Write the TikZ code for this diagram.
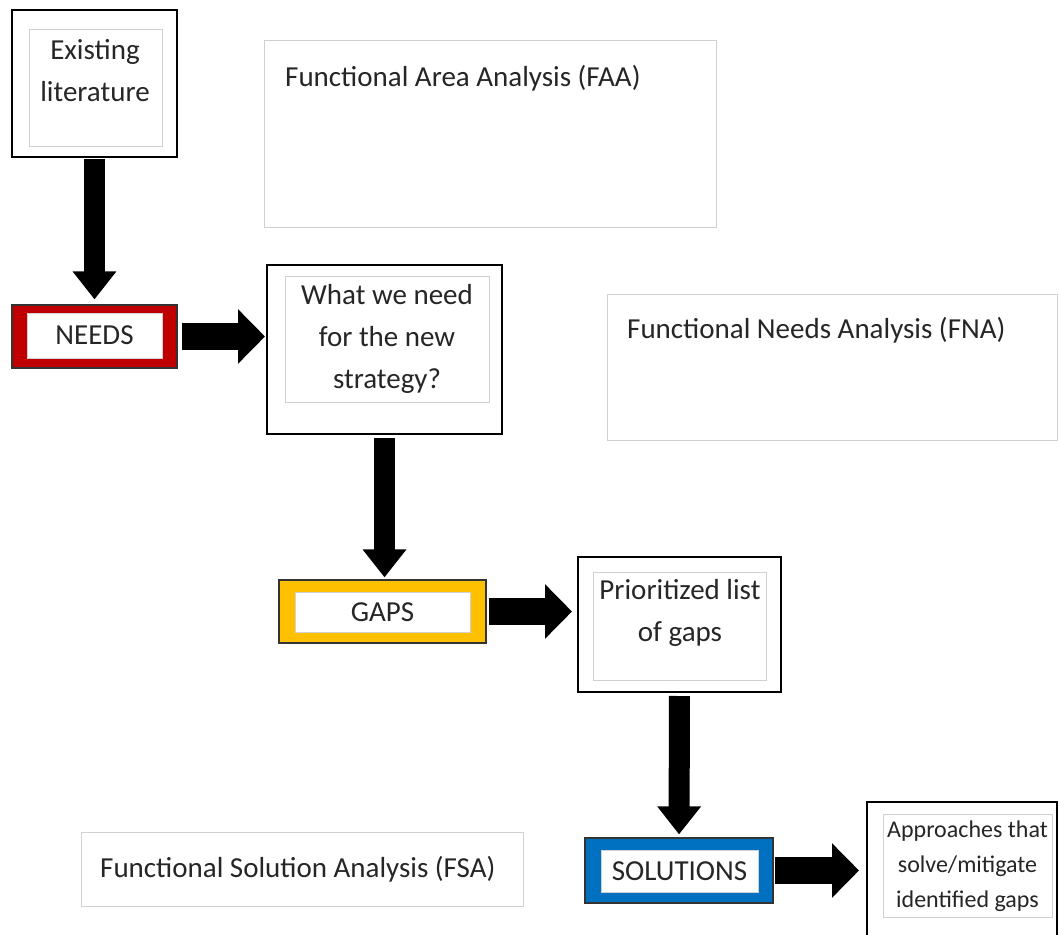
\documentclass[tikz,border=0pt]{standalone}
\usepackage{fontspec}
\setmainfont{Carlito}
\usetikzlibrary{arrows.meta,positioning}

\definecolor{needsred}{HTML}{C00000}
\definecolor{gapsgold}{HTML}{FFC000}
\definecolor{solblue}{HTML}{0070C0}

\begin{document}
\begin{tikzpicture}[x=1pt, y=-1pt,
outer/.style={draw=black, line width=2pt, minimum width=#1, inner sep=0pt},
frame/.style={draw=black!18, line width=0.8pt, fill=white, inner sep=0pt},
band/.style={draw=black!80, line width=1.2pt, inner sep=0pt, minimum height=63pt},
txt/.style={align=center, text=black!85, font=\fontsize{29}{42}\selectfont},
small/.style={align=center, text=black!85, font=\fontsize{24}{35}\selectfont},
title/.style={anchor=base west, text=black!85, font=\fontsize{29}{35}\selectfont, inner sep=0pt},
varrow/.style={line width=21pt, -{Triangle[width=42pt,length=28pt]}},
harrow/.style={line width=27pt, -{Triangle[width=53pt,length=27pt]}}]
\path[use as bounding box, fill=white] (0,0) rectangle (1059,934);

% analysis areas
\node [frame, minimum width=452pt, minimum height=187pt] (faa) at (490,133.5) {};
\node [title] (faatxt) at (285,86) {Functional Area Analysis (FAA)};
\node [frame, minimum width=450pt, minimum height=146pt] (fna) at (832,367) {};
\node [title] (fnatxt) at (627,338) {Functional Needs Analysis (FNA)};
\node [frame, minimum width=442pt, minimum height=74pt] (fsa) at (302,869) {};
\node [title] (fsatxt) at (100,877) {Functional Solution Analysis (FSA)};

% boxes
\node [outer=165pt, minimum height=147pt] (lit) at (94.5,83.5) {};
\node [frame, minimum width=133pt, minimum height=117pt] (litin) at (95.5,87.5) {};
\node [txt] (littxt) at (95,71) {Existing\\literature};

\node [band, fill=needsred, minimum width=165pt] (needs) at (94.5,336.5) {};
\node [frame, fill=white, minimum width=135pt, minimum height=45pt, txt] (needsin) at (94.5,335.5) {NEEDS};

\node [outer=235pt, minimum height=169pt] (what) at (384.5,349.5) {};
\node [frame, minimum width=204pt, minimum height=126pt, txt] (whatin) at (387,339)
  {What we need\\for the new\\strategy?};

\node [band, fill=gapsgold, minimum width=207pt] (gaps) at (382.5,611.5) {};
\node [frame, fill=white, minimum width=175pt, minimum height=40pt, txt] (gapsin) at (382.5,612) {GAPS};

\node [outer=203pt, minimum height=135pt] (prior) at (679.5,624.5) {};
\node [frame, minimum width=173pt, minimum height=108pt] (priorin) at (679.5,626) {};
\node [txt] (priortxt) at (680,613) {Prioritized list\\of gaps};

\node [band, fill=solblue, minimum width=188pt, minimum height=65pt] (sol) at (679,870.5) {};
\node [frame, fill=white, minimum width=157pt, minimum height=42pt, txt] (solin) at (679.5,871) {SOLUTIONS};

\node [outer=190pt, minimum height=148pt] (appr) at (962,876) {};
\node [frame, minimum width=169pt, minimum height=103pt, small] (apprin) at (967.5,866)
  {Approaches that\\solve/mitigate\\identified gaps};

% arrows
\draw [varrow, shorten <=1pt, shorten >=5pt] (lit.south) -- (needs.north);
\draw [harrow, shorten <=4pt, shorten >=1pt] (needs.east) -- (needs.east -| what.west);
\draw [varrow, shorten <=3pt, shorten >=2pt] (what.south) -- (what.south |- gaps.north);
\draw [harrow, shorten <=2pt, shorten >=5pt] (gaps.east) -- (gaps.east -| prior.west);
\draw [varrow, shorten <=3pt, shorten >=3pt] (prior.south) -- (sol.north);
\draw [harrow, shorten <=1pt, shorten >=7pt] (sol.east) -- (sol.east -| appr.west);
\end{tikzpicture}
\end{document}
